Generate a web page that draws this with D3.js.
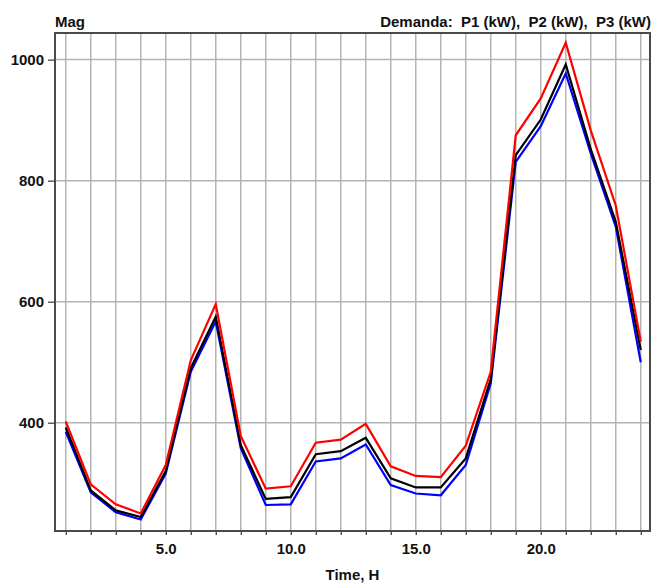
<!DOCTYPE html>
<html>
<head>
<meta charset="utf-8">
<script src="https://cdn.jsdelivr.net/npm/d3@7"></script>
<style>
  body { margin: 0; background: #fff; }
  text { font-family: "Liberation Sans", Arial, sans-serif; font-weight: bold; fill: #111; }
  .grid { stroke: #b4b4b4; stroke-width: 1.5; }
  .frame { fill: none; stroke: #4a4a4a; stroke-width: 2; }
</style>
</head>
<body>
<svg id="canvas" width="652" height="583"></svg>
<script>
// ************************************************************************************** //
// Data

var hours = [1,2,3,4,5,6,7,8,9,10,11,12,13,14,15,16,17,18,19,20,21,22,23,24];
var p1 = [402,298,265,250,330,503,596,378,291,295,367,372,398,328,312,310,362,484,875,936,1028,883,759,534];
var p2 = [392,288,255,244,320,490,575,363,274,277,348,353,375,308,293,293,341,472,842,901,992,852,732,520];
var p3 = [385,285,252,240,316,484,567,358,264,265,336,341,364,297,283,280,330,465,831,890,977,845,724,500];
var y_ticks = [400,600,800,1000];
var x_labels = [5,10,15,20];
var legend_text = 'Demanda:  P1 (kW),  P2 (kW),  P3 (kW)';

// ************************************************************************************** //
// Scales

var left = 55, right = 650, top_ = 33, bottom = 531;
var x = d3.scaleLinear().domain([0.57, 24.37]).range([left, right]);
var y = d3.scaleLinear().domain([221, 1044]).range([bottom, top_]);

var svg = d3.select('#canvas');

// Grid
svg.selectAll('.vgrid').data(hours).enter().append('line')
  .attr('class', 'grid')
  .attr('x1', function(d){ return x(d); }).attr('x2', function(d){ return x(d); })
  .attr('y1', top_).attr('y2', bottom);

svg.selectAll('.hgrid').data(y_ticks).enter().append('line')
  .attr('class', 'grid')
  .attr('x1', left).attr('x2', right)
  .attr('y1', function(d){ return y(d); }).attr('y2', function(d){ return y(d); });

// Axes
var x_axis = d3.axisBottom(x).tickValues(hours).tickSize(4).tickSizeOuter(0)
  .tickFormat(function(d){ return x_labels.indexOf(d) >= 0 ? d3.format('.1f')(d) : ''; });
var gx = svg.append('g').attr('transform', 'translate(0,' + bottom + ')').call(x_axis);
gx.select('.domain').remove();
gx.selectAll('line').attr('stroke', '#333').attr('stroke-width', 1.2);
gx.selectAll('text').attr('dy', '1.05em').style('font-size', '15px');

var y_axis = d3.axisLeft(y).tickValues(y_ticks).tickSize(7).tickSizeOuter(0).tickFormat(d3.format('d'));
var gy = svg.append('g').attr('transform', 'translate(' + left + ',0)').call(y_axis);
gy.select('.domain').remove();
gy.selectAll('line').attr('stroke', '#333').attr('stroke-width', 1.2);
gy.selectAll('text').attr('x', -11).style('font-size', '15px');
svg.selectAll('.tick text').attr('fill', '#111').style('font-family', '"Liberation Sans", Arial, sans-serif').style('font-weight', 'bold');

// Frame
svg.append('rect').attr('class', 'frame')
  .attr('x', left).attr('y', top_).attr('width', right - left).attr('height', bottom - top_);

// ************************************************************************************** //
// Lines

var line = d3.line().x(function(d){ return x(d[0]); }).y(function(d){ return y(d[1]); });
var series = [{ v: p3, c: '#0000ff' }, { v: p2, c: '#000000' }, { v: p1, c: '#ff0000' }];
series.forEach(function(s){
  svg.append('path')
    .datum(hours.map(function(h, i){ return [h, s.v[i]]; }))
    .attr('d', line)
    .attr('fill', 'none')
    .attr('stroke', s.c)
    .attr('stroke-width', 2.2)
    .attr('stroke-linejoin', 'miter');
});

// ************************************************************************************** //
// Labels

svg.append('text').attr('x', left).attr('y', 27).style('font-size', '15px').text('Mag');
svg.append('text').attr('x', 651).attr('y', 27).attr('text-anchor', 'end')
  .style('font-size', '15px').style('white-space', 'pre').attr('xml:space', 'preserve').text(legend_text);
svg.append('text').attr('x', (left + right) / 2).attr('y', 580).attr('text-anchor', 'middle')
  .style('font-size', '15px').text('Time, H');
</script>
</body>
</html>
